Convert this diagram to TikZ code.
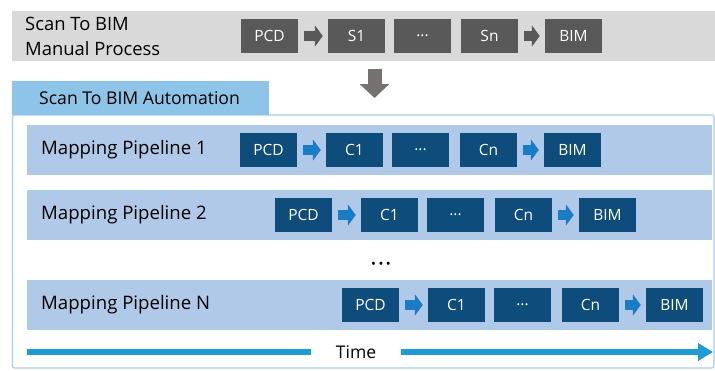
\documentclass[tikz,border=0pt]{standalone}
\usepackage{fontspec}
\setmainfont{Open Sans}
\usetikzlibrary{arrows.meta}
\definecolor{bandgray}{HTML}{D9D9D9}
\definecolor{boxgray}{HTML}{595959}
\definecolor{downgray}{HTML}{767171}
\definecolor{boxblue}{HTML}{0E4C7C}
\definecolor{arrblue}{HTML}{1A7CC4}
\definecolor{bandblue}{HTML}{B0C9E8}
\definecolor{tabblue}{HTML}{8EC4E8}
\definecolor{frameblue}{HTML}{A8CDEB}
\definecolor{timeblue}{HTML}{1E9AD6}
\tikzset{
  stepbox/.style={minimum width=57pt, minimum height=34pt, inner sep=0pt, text=white, font=\fontsize{15.5}{18}\selectfont},
  graybox/.style={stepbox, fill=boxgray},
  bluebox/.style={stepbox, fill=boxblue},
  blockarr/.style={line width=10pt, -{Triangle[length=8pt,width=21pt]}, shorten <=6pt, shorten >=5pt},
  grayarr/.style={blockarr, draw=boxgray},
  bluearr/.style={blockarr, draw=arrblue},
  bandlabel/.style={anchor=west, inner sep=0pt, font=\fontsize{18.6}{20}\selectfont},
}
\begin{document}
\begin{tikzpicture}[x=1pt, y=-1pt]
\useasboundingbox (0,0) rectangle (715,370);
% top manual band
\fill[bandgray] (12,11) rectangle (715,61);
\node[anchor=west, align=left, inner sep=0pt, font=\fontsize{18.4}{25}\selectfont] (manual) at (25,36.5) {Scan To BIM\\Manual Process};
\node[graybox] (m1) at (269.5,36) {PCD};
\node[graybox] (m2) at (356.5,36) {S1};
\node[graybox] (m3) at (422.5,36) {...};
\node[graybox] (m4) at (489.5,36) {Sn};
\node[graybox] (m5) at (573.5,36) {BIM};
\draw[grayarr] (m1.east) -- (m2.west);
\draw[grayarr] (m4.east) -- (m5.west);
% down arrow
\coordinate (dtop) at (374.5,69);
\coordinate (dbot) at (374.5,98);
\draw[downgray, line width=14pt, -{Triangle[length=14pt,width=29pt]}] (dtop) -- (dbot);
% frame and tab
\draw[frameblue, line width=1.2pt, fill=white, rounded corners=2pt] (12.5,115) rectangle (714,368);
\fill[tabblue] (12,81) rectangle (269,115);
\node[anchor=west, inner sep=0pt, font=\fontsize{17.6}{20}\selectfont] (auto) at (39,98) {Scan To BIM Automation};
% pipelines
\foreach \yy/\dx/\lab/\nm in {150/0/1/a, 215/35/2/b, 305/102/N/c}{
  \fill[bandblue] (27,\yy-25) rectangle (712,\yy+25);
  \node[bandlabel] (\nm l) at (41,\yy) {Mapping Pipeline \lab};
  \node[bluebox] (\nm1) at (268.5+\dx,\yy) {PCD};
  \node[bluebox] (\nm2) at (354.5+\dx,\yy) {C1};
  \node[bluebox] (\nm3) at (420.5+\dx,\yy) {...};
  \node[bluebox] (\nm4) at (488.5+\dx,\yy) {Cn};
  \node[bluebox] (\nm5) at (572.5+\dx,\yy) {BIM};
  \draw[bluearr] (\nm1.east) -- (\nm2.west);
  \draw[bluearr] (\nm4.east) -- (\nm5.west);
}
\node[font=\fontsize{13}{14}\selectfont, inner sep=0pt] (dots) at (381,265) {•\hspace{2.5pt}•\hspace{2.5pt}•};
% time
\node[font=\fontsize{17.5}{20}\selectfont, inner sep=0pt] (time) at (356,352) {Time};
\coordinate (tstart) at (27,352);
\coordinate (tend) at (713,352);
\draw[timeblue, line width=5.5pt] (tstart) -- ([xshift=-25pt]time.west);
\draw[timeblue, line width=5.5pt, -{Triangle[length=15pt,width=17pt]}] ([xshift=25pt]time.east) -- (tend);
\end{tikzpicture}
\end{document}
